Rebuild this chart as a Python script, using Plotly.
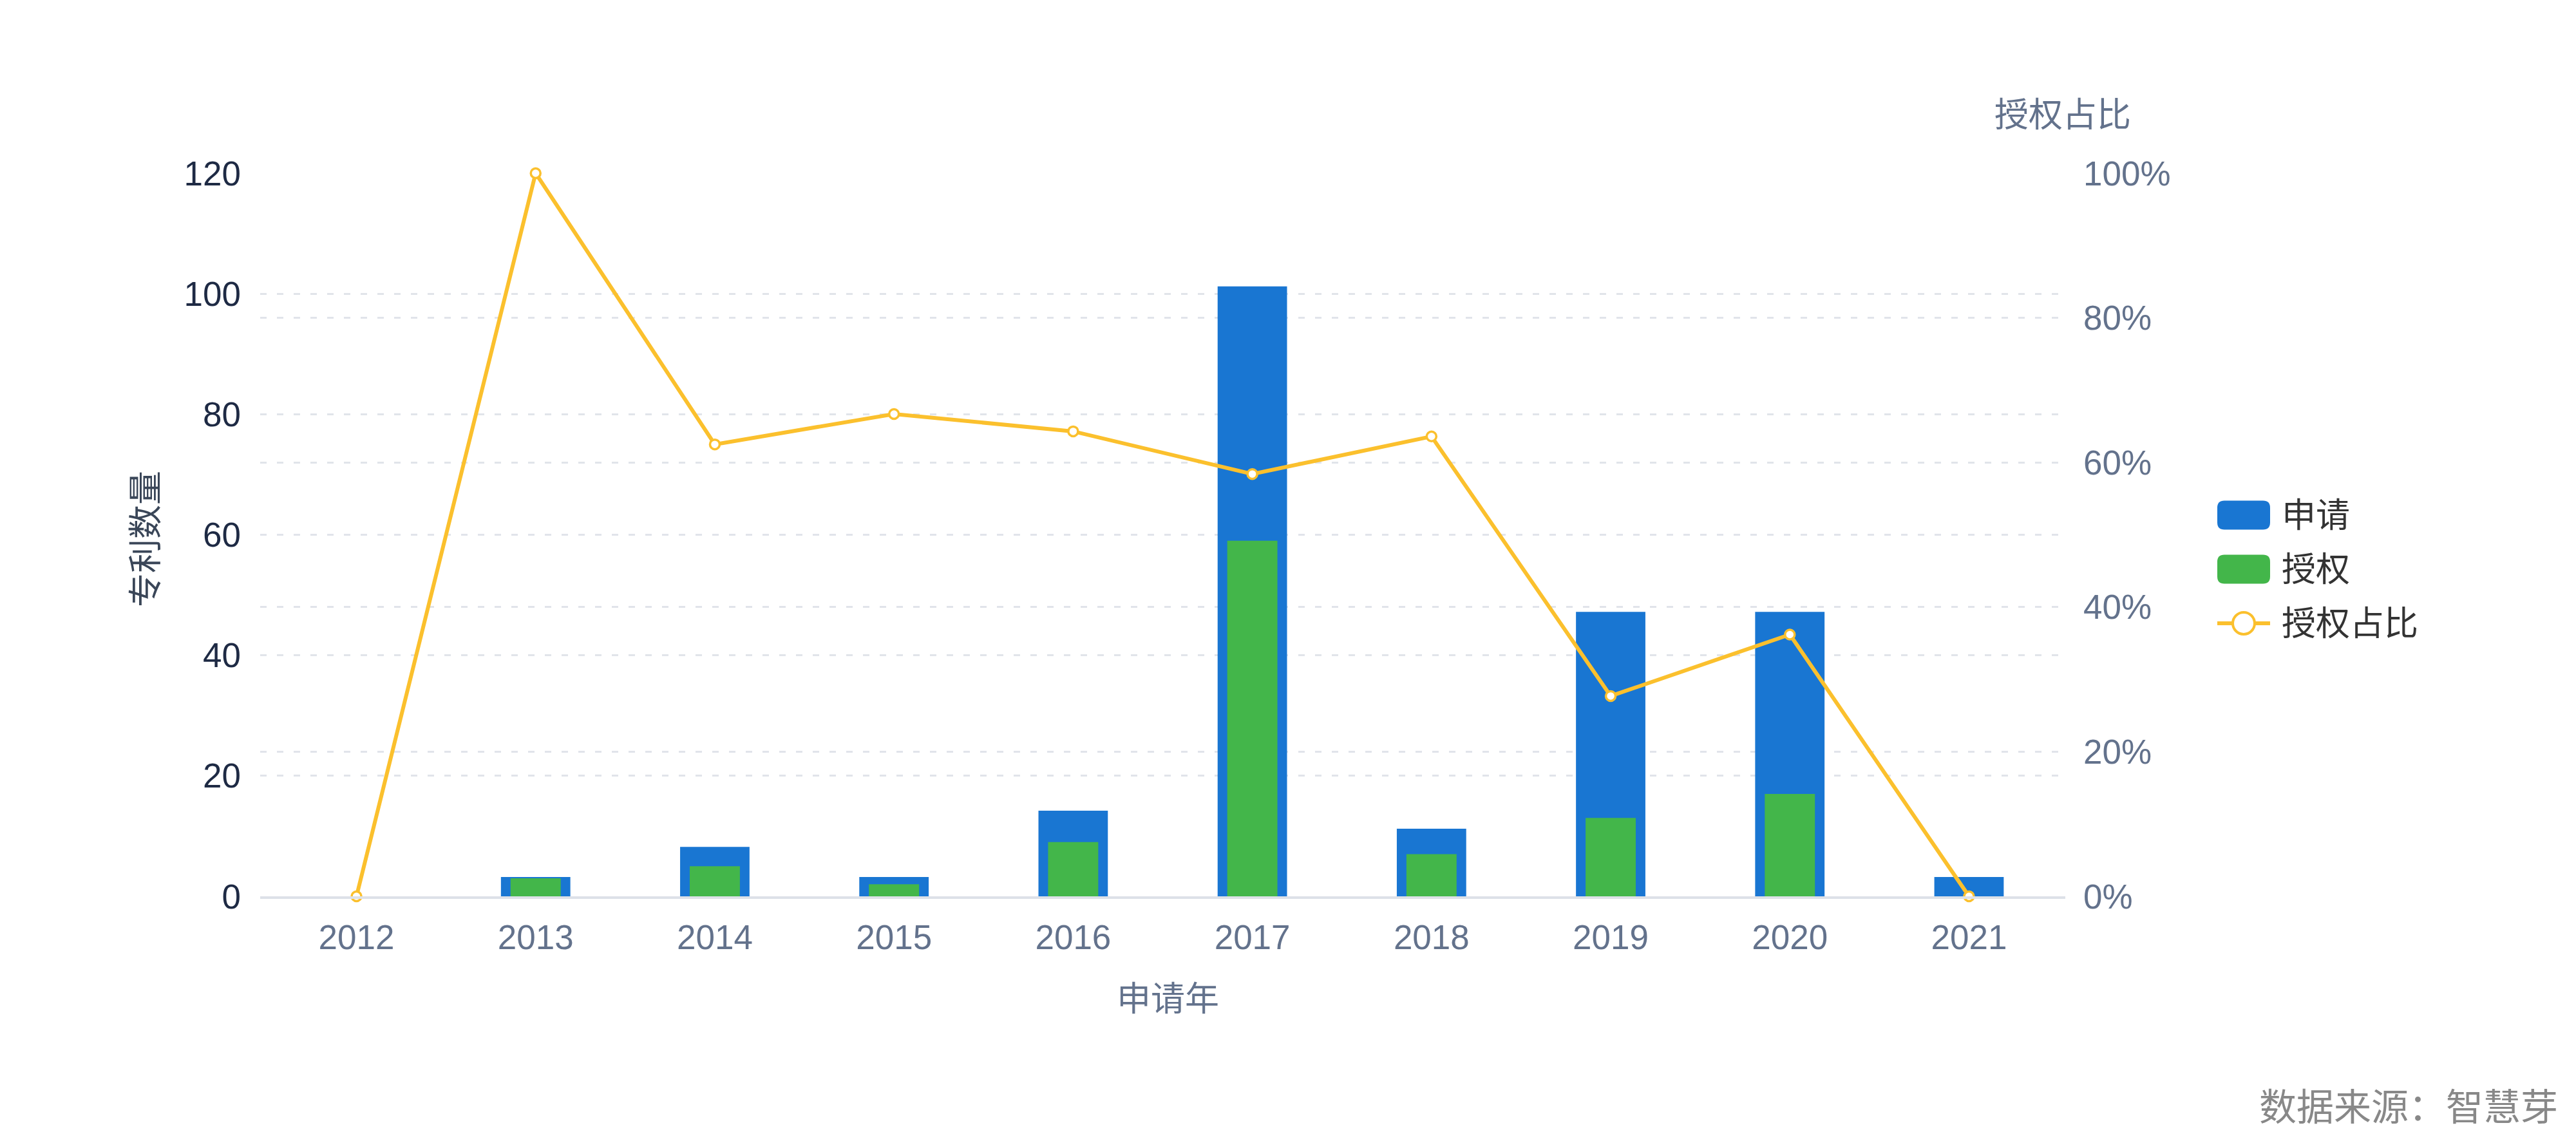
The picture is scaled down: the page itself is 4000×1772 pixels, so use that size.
import plotly.graph_objects as go

years = ["2012", "2013", "2014", "2015", "2016", "2017", "2018", "2019", "2020", "2021"]
applied = [0, 3, 8, 3, 14, 101, 11, 47, 47, 3]
granted = [0, 3, 5, 2, 9, 59, 7, 13, 17, 0]
grant_ratio = [0, 100, 62.5, 66.7, 64.3, 58.4, 63.6, 27.7, 36.2, 0]
series_names = ["申请", "授权", "授权占比"]

BLUE = "#1976D2"
GREEN = "#43B64A"
YELLOW = "#FBC02D"
FONT = "Liberation Sans, Arial, Noto Sans CJK SC, sans-serif"
TICK_DARK = "#1e2a44"
TICK_GRAY = "#63728c"
GRID = "#e1e4ea"

# plot area in page pixels
L, R, T, B = 396, 3199, 261, 1384
W, H = R - L, B - T


def px(x):
    return (x - L) / W


def py(y):
    return (B - y) / H


fig = go.Figure()
fig.add_trace(go.Bar(
    x=years, y=applied, name=series_names[0], width=0.373, showlegend=False,
    marker=dict(color=BLUE, line=dict(color=BLUE, width=[0 if v == 0 else 4 for v in applied])),
))
fig.add_trace(go.Bar(
    x=years, y=granted, name=series_names[1], width=0.28, showlegend=False,
    marker=dict(color=GREEN, line=dict(width=0)),
))
fig.add_trace(go.Scatter(
    x=years, y=grant_ratio, name=series_names[2], yaxis="y2", showlegend=False,
    mode="lines+markers",
    line=dict(color=YELLOW, width=6),
    marker=dict(symbol="circle", size=15, color="white",
                line=dict(color=YELLOW, width=3.5)),
    cliponaxis=False,
))

# custom legend (rounded rectangles + line-with-circle)
shapes = []
annotations = []
sym_x0, sym_x1 = 3435, 3517
rows_y = [792, 876, 960]
rect_h, rad = 45, 11

for color, yc in zip([BLUE, GREEN], rows_y[:2]):
    x0, x1 = px(sym_x0), px(sym_x1)
    y0, y1 = py(yc + rect_h / 2), py(yc - rect_h / 2)
    rx, ry = rad / W, rad / H
    path = (f"M{x0 + rx},{y0} L{x1 - rx},{y0} Q{x1},{y0} {x1},{y0 + ry} "
            f"L{x1},{y1 - ry} Q{x1},{y1} {x1 - rx},{y1} L{x0 + rx},{y1} "
            f"Q{x0},{y1} {x0},{y1 - ry} L{x0},{y0 + ry} Q{x0},{y0} {x0 + rx},{y0} Z")
    shapes.append(dict(type="path", xref="paper", yref="paper", path=path,
                       fillcolor=color, line=dict(width=0), layer="above"))

yc = rows_y[2]
shapes.append(dict(type="line", xref="paper", yref="paper",
                   x0=px(sym_x0), x1=px(sym_x1), y0=py(yc), y1=py(yc),
                   line=dict(color=YELLOW, width=6)))
cx, cr = (sym_x0 + sym_x1) / 2, 17
shapes.append(dict(type="circle", xref="paper", yref="paper",
                   x0=px(cx - cr), x1=px(cx + cr), y0=py(yc + cr), y1=py(yc - cr),
                   fillcolor="white", line=dict(color=YELLOW, width=4), layer="above"))

for name, yc in zip(series_names, rows_y):
    annotations.append(dict(text=name, xref="paper", yref="paper", x=px(3533), y=py(yc),
                            xanchor="left", yanchor="middle", showarrow=False,
                            font=dict(size=53, color="#333333")))

annotations += [
    dict(text="专利数量", xref="paper", yref="paper", x=px(219), y=py(829),
         textangle=-90, showarrow=False, xanchor="center", yanchor="middle",
         font=dict(size=53, color="#3a4658")),
    dict(text="申请年", xref="paper", yref="paper", x=px(1805), y=py(1543),
         showarrow=False, xanchor="center", yanchor="middle",
         font=dict(size=53, color=TICK_GRAY)),
    dict(text="授权占比", xref="paper", yref="paper", x=px(3195), y=py(170),
         showarrow=False, xanchor="center", yanchor="middle",
         font=dict(size=53, color=TICK_GRAY)),
    dict(text="数据来源：智慧芽", xref="paper", yref="paper", x=px(3966), y=py(1712),
         showarrow=False, xanchor="right", yanchor="middle",
         font=dict(size=58, color="#888888")),
]

fig.update_layout(
    width=4000, height=1772,
    margin=dict(l=L, r=4000 - R, t=T, b=1772 - B),
    paper_bgcolor="white", plot_bgcolor="white",
    barmode="overlay",
    font=dict(family=FONT, size=53, color="#333333"),
    showlegend=False,
    xaxis=dict(
        type="category",
        showgrid=False,
        showline=True, linecolor="#dde1e8", linewidth=4,
        ticks="", tickfont=dict(size=53, color=TICK_GRAY),
        ticklabelstandoff=14,
    ),
    yaxis=dict(
        range=[0, 120], dtick=20,
        showgrid=True, gridcolor=GRID, gridwidth=3, griddash="10px,16px",
        zeroline=False, showline=False,
        tickfont=dict(size=53, color=TICK_DARK),
        ticklabelstandoff=29,
    ),
    yaxis2=dict(
        overlaying="y", side="right",
        range=[0, 100], dtick=20, ticksuffix="%",
        showgrid=True, gridcolor=GRID, gridwidth=3, griddash="10px,16px",
        zeroline=False, showline=False,
        tickfont=dict(size=53, color=TICK_GRAY),
        ticklabelstandoff=27,
    ),
    shapes=shapes,
    annotations=annotations,
)

fig.write_html("out.html")
